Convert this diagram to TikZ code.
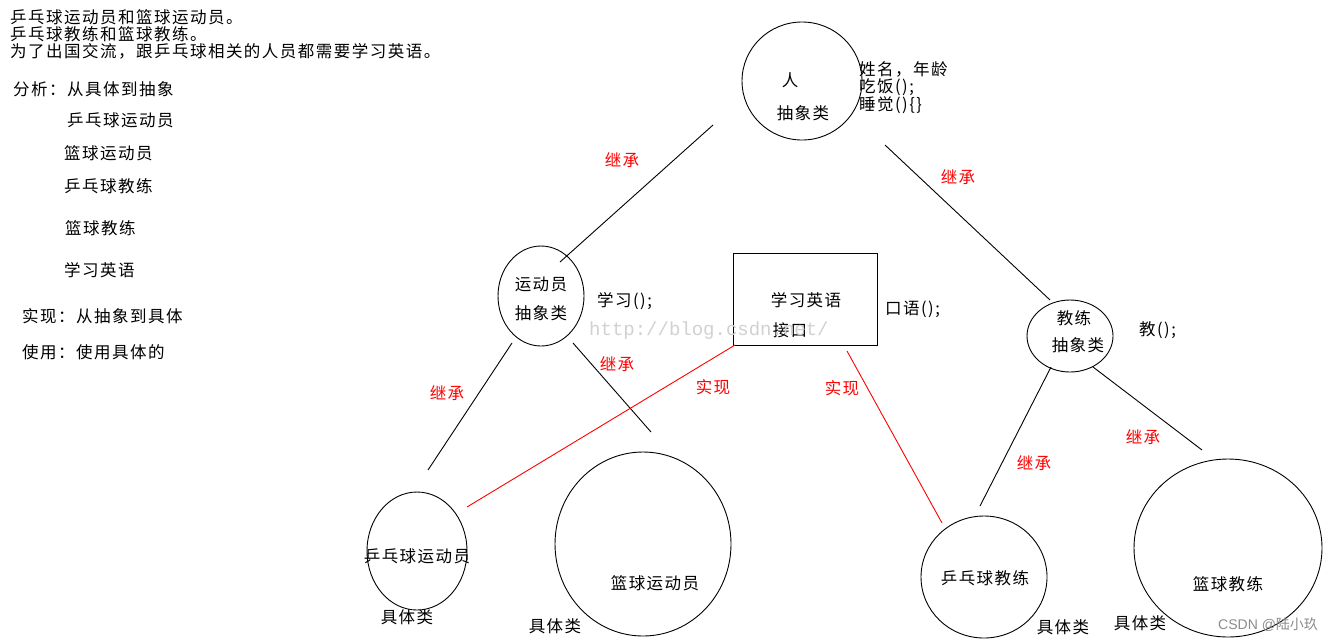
\documentclass[tikz,border=0pt]{standalone}
\usepackage{fontspec}
\newfontfamily\cjk[LetterSpace=9]{Noto Sans CJK SC}
\newfontfamily\cjkplain{Noto Sans CJK SC}
\newfontfamily\wmmono{Liberation Mono}
\newfontfamily\wmsans{Liberation Sans}
\begin{document}
\begin{tikzpicture}[x=1pt,y=-1pt,
  every node/.style={font=\cjk\fontsize{16.5}{17}\selectfont, inner sep=0pt},
  blkline/.style={draw=black, line width=0.9pt},
  redline/.style={draw=red, line width=0.9pt},
  rlab/.style={text=red},
  lft/.style={anchor=west}
]
\useasboundingbox[fill=white] (0,0) rectangle (1332,641);
% ellipses
\draw[blkline] (802,81) ellipse [x radius=60, y radius=59];
\draw[blkline] (541,296) ellipse [x radius=43, y radius=50];
\draw[blkline] (1070,336) ellipse [x radius=43, y radius=36];
\draw[blkline] (417,551) ellipse [x radius=50, y radius=59];
\draw[blkline] (643,544) ellipse [x radius=88, y radius=92];
\draw[blkline] (984,577) ellipse [x radius=63, y radius=61];
\draw[blkline] (1228,548) ellipse [x radius=94, y radius=89];
\draw[blkline] (733,253) rectangle (877,345);
% top-left text
\node[lft] (t1) at (10,17) {乒乓球运动员和篮球运动员。};
\node[lft] (t2) at (10,34) {乒乓球教练和篮球教练。};
\node[lft] (t3) at (10,51) {为了出国交流，跟乒乓球相关的人员都需要学习英语。};
\node[lft] (a0) at (13,89) {分析：从具体到抽象};
\node[lft] (a1) at (67,120) {乒乓球运动员};
\node[lft] (a2) at (64,153) {篮球运动员};
\node[lft] (a3) at (64,186) {乒乓球教练};
\node[lft] (a4) at (65,228) {篮球教练};
\node[lft] (a5) at (64,270) {学习英语};
\node[lft] (a6) at (22,316) {实现：从抽象到具体};
\node[lft] (a7) at (22,352) {使用：使用具体的};
% node texts
\node (p1) at (790,80) {人};
\node (p2) at (803,113) {抽象类};
\node[lft] (pa) at (859,69) {姓名，年龄};
\node[lft] (pb) at (859,87) {吃饭();};
\node[lft] (pc) at (859,105) {睡觉()\{\}};
\node (s1) at (541,284) {运动员};
\node (s2) at (541,313) {抽象类};
\node[lft] (sa) at (597,301) {学习();};
\node (i1) at (806,300) {学习英语};
\node (i2) at (790,330) {接口};
\node[lft] (ia) at (885,309) {口语();};
\node (c1) at (1074,318) {教练};
\node (c2) at (1078,345) {抽象类};
\node[lft] (ca) at (1139,330) {教();};
\node (pp) at (417,556) {乒乓球运动员};
\node (bp) at (655,583) {篮球运动员};
\node (pc2) at (985,578) {乒乓球教练};
\node (bc) at (1228,584) {篮球教练};
\node (k1) at (407,617) {具体类};
\node (k2) at (555,626) {具体类};
\node (k3) at (1063,627) {具体类};
\node (k4) at (1140,623) {具体类};
% connectors
\coordinate (e1a) at (713,125); \coordinate (e1b) at (560,262);
\coordinate (e2a) at (885,145); \coordinate (e2b) at (1050,300);
\coordinate (e3a) at (512,343); \coordinate (e3b) at (428,470);
\coordinate (e4a) at (573,343); \coordinate (e4b) at (651,432);
\coordinate (e5a) at (1051,367); \coordinate (e5b) at (980,506);
\coordinate (e6a) at (1093,367); \coordinate (e6b) at (1202,450);
\coordinate (r1a) at (735,345); \coordinate (r1b) at (467,507);
\coordinate (r2a) at (847,351); \coordinate (r2b) at (942,523);
\draw[blkline] (e1a) -- (e1b);
\draw[blkline] (e2a) -- (e2b);
\draw[blkline] (e3a) -- (e3b);
\draw[blkline] (e4a) -- (e4b);
\draw[blkline] (e5a) -- (e5b);
\draw[blkline] (e6a) -- (e6b);
\draw[redline] (r1a) -- (r1b);
\draw[redline] (r2a) -- (r2b);
% red labels
\node[rlab] (l1) at (622,160) {继承};
\node[rlab] (l2) at (958,177) {继承};
\node[rlab] (l3) at (447,393) {继承};
\node[rlab] (l4) at (617,364) {继承};
\node[rlab] (l5) at (1034,463) {继承};
\node[rlab] (l6) at (1143,437) {继承};
\node[rlab] (l7) at (713,387) {实现};
\node[rlab] (l8) at (842,388) {实现};
% watermarks
\node[lft, text=black!18, font=\wmmono\fontsize{19}{19}\selectfont] (w1) at (589,331) {http://blog.csdn.net/};
\node[lft, text=black!45, font=\wmsans\fontsize{14}{14}\selectfont] (w2) at (1218,625) {CSDN @{\cjkplain 陆小玖}};
\end{tikzpicture}
\end{document}
